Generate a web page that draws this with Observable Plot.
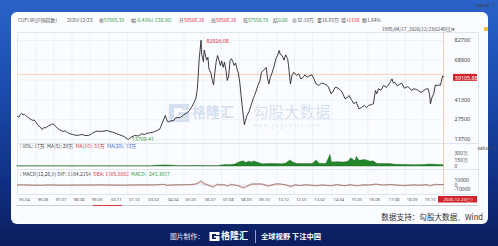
<!DOCTYPE html>
<html><head><meta charset="utf-8">
<script src="https://cdn.jsdelivr.net/npm/d3@7"></script>
<script src="https://cdn.jsdelivr.net/npm/@observablehq/plot@0.6"></script>
<style>
html,body{margin:0;padding:0;}
body{width:498px;height:246px;overflow:hidden;position:relative;
 background:linear-gradient(180deg,#2b63c8 0%,#1c4cb0 35%,#102f82 75%,#0b1d5c 100%);
 font-family:"Noto Sans CJK SC","Noto Sans",sans-serif;}
#card{position:absolute;left:11px;top:12px;width:477px;height:212px;background:#fbfcff;border-radius:6px;}
.abs{position:absolute;white-space:nowrap;line-height:1;}
.hd{font-size:4.9px;color:#555;top:17.8px;}
.g{color:#2e9a3e}.r{color:#e0303a}.b{color:#3b5fd6}
.ln{position:absolute;background:#dfe5ee;}
.panel{position:absolute;left:0;}
#wm{color:rgba(110,150,205,0.28);}
</style></head>
<body>
<div id="card"></div>
<!-- header -->
<div class="abs hd" style="left:18px">CUFI.W(沪铜指数)</div>
<div class="abs hd" style="left:67px">2020/12/23</div>
<div class="abs hd" style="left:99px">收<span class="g">57665.39</span></div>
<div class="abs hd" style="left:131px">幅<span class="g">-0.41%(-238.90)</span></div>
<div class="abs hd" style="left:179px">开<span class="r">58506.16</span></div>
<div class="abs hd" style="left:211px">高<span class="r">58506.16</span></div>
<div class="abs hd" style="left:243px">低<span class="g">57558.78</span></div>
<div class="abs hd" style="left:273px">结<span class="g">0.00</span></div>
<div class="abs hd" style="left:292px">仓32.19万</div>
<div class="abs hd" style="left:317px">量16.65万</div>
<div class="abs hd" style="left:341px">增<span class="r">+1198</span></div>
<div class="abs hd" style="left:362px">额1.64%</div>
<div class="abs" style="left:382px;top:26.8px;font-size:4.7px;color:#444;text-decoration:underline;">1995/04/17_2020/12/23(6240日)▾</div>
<div class="abs" style="left:484px;top:27px;width:3.5px;height:3.5px;background:#f2c230;"></div>

<!-- frame lines -->
<div class="ln" style="left:17px;top:32px;width:461px;height:0.7px;"></div>
<div class="ln" style="left:17px;top:143px;width:461px;height:0.7px;"></div>
<div class="ln" style="left:17px;top:169px;width:461px;height:0.7px;"></div>
<div class="ln" style="left:17px;top:194px;width:461px;height:0.7px;"></div>
<div class="ln" style="left:17px;top:32px;width:0.7px;height:162px;"></div>
<div class="ln" style="left:478px;top:32px;width:0.7px;height:162px;"></div>
<div class="ln" style="left:443px;top:32px;width:0.8px;height:162px;background:#f1cfae;"></div>
<!-- scroll bar -->
<div class="ln" style="left:17px;top:205px;width:461px;height:0.8px;background:#c8ccd4;"></div>
<div class="ln" style="left:93px;top:205px;width:29px;height:1.2px;background:#d83a3a;"></div>

<!-- watermark -->
<div id="wm">
 <svg class="abs" style="left:168px;top:103px" width="22" height="20" viewBox="0 0 22 20">
  <path d="M1 1 H21 V7 H14 V5 H6 V15 H14 V12 H10 V9 H21 V19 H1 Z" fill="rgba(110,150,205,0.28)"/>
 </svg>
 <div class="abs" style="left:192px;top:104px;font-size:14px;font-weight:700;">格隆汇</div>
 <div class="abs" style="left:253px;top:103.5px;font-size:15.5px;">勾股大数据</div>
 <div class="abs" style="left:253px;top:122px;font-size:5px;letter-spacing:1.35px;">www.gugudata.com</div>
</div>

<!-- sub headers -->
<div class="abs" style="left:20px;top:143.3px;font-size:5px;color:#444">⁝ VOL: 17万&nbsp; MA(5): 29万&nbsp; <span class="r">MA(10): 31万</span>&nbsp; <span class="b">MA(20): 33万</span></div>
<div class="abs" style="left:20px;top:171px;font-size:5px;color:#444">⁝ MACD(12,26,9) DIF: 1184.2154&nbsp; <span class="r">DEA: 1305.8882</span>&nbsp; <span class="g">MACD: -243.3057</span></div>

<div id="pA" class="panel" style="top:0"></div>
<div id="pB" class="panel" style="top:143px"></div>
<div id="pC" class="panel" style="top:169px"></div>
<div id="pD" class="panel" style="top:194px"></div>

<div class="abs" style="right:15px;top:213px;font-size:7.6px;color:#333;">数据支持：勾股大数据、Wind</div>

<!-- footer -->
<div class="abs" style="left:170px;top:232.5px;font-size:6.8px;color:#e8eeff;">图片制作：</div>
<svg class="abs" style="left:209px;top:231px" width="11" height="11" viewBox="0 0 22 20">
 <path d="M1 1 H21 V7 H14 V5 H6 V15 H14 V12 H10 V9 H21 V19 H1 Z" fill="#ffffff"/>
</svg>
<div class="abs" style="left:221px;top:231px;font-size:9px;font-weight:700;color:#fff;">格隆汇</div>
<div class="abs" style="left:255px;top:230px;width:0.8px;height:13px;background:#8fa3d8;"></div>
<div class="abs" style="left:261px;top:232.5px;font-size:7.3px;font-weight:700;color:#fff;">全球视野 下注中国</div>

<script>
// ---------- data ----------
const priceDates = ["1995-04-17","1995-05-15","1995-06-15","1995-07-15","1995-08-15","1995-09-15","1995-10-15","1995-11-15","1995-12-15",
"1996-01-15","1996-02-15","1996-03-15","1996-04-15","1996-05-15","1996-06-15","1996-07-15","1996-08-15","1996-09-15","1996-10-15","1996-11-15","1996-12-15",
"1997-01-15","1997-03-01","1997-05-01","1997-06-15","1997-08-01","1997-09-15","1997-11-01",
"1998-01-15","1998-03-01","1998-04-15","1998-06-15","1998-08-15","1998-11-15",
"1999-01-15","1999-03-15","1999-05-15","1999-08-01","1999-10-01","1999-12-01",
"2000-02-01","2000-04-15","2000-06-15","2000-09-15","2000-11-15",
"2001-01-15","2001-04-15","2001-06-15","2001-09-15","2001-12-20",
"2002-03-01","2002-05-15","2002-08-01","2002-10-15","2002-12-15",
"2003-02-01","2003-04-15","2003-07-01","2003-09-15","2003-11-15",
"2004-01-01","2004-02-15","2004-03-15","2004-04-15","2004-05-15","2004-07-01","2004-09-15","2004-11-01",
"2005-02-15","2005-04-15","2005-07-01","2005-09-01","2005-10-15","2005-12-01",
"2006-01-15","2006-02-15","2006-03-01","2006-04-01","2006-05-12","2006-05-25","2006-06-10","2006-07-01","2006-07-20","2006-08-10","2006-09-10","2006-10-10","2006-11-01","2006-12-15",
"2007-01-15","2007-02-10","2007-03-10","2007-04-10","2007-05-10","2007-06-10","2007-07-10","2007-08-10","2007-09-10","2007-10-10","2007-11-10","2007-12-10",
"2008-01-10","2008-02-10","2008-03-10","2008-04-10","2008-05-10","2008-06-10","2008-07-10","2008-08-10","2008-09-10","2008-10-10","2008-11-01","2008-12-20",
"2009-01-15","2009-02-15","2009-04-01","2009-05-15","2009-07-01","2009-08-01","2009-09-01","2009-10-15","2009-12-01",
"2010-01-01","2010-02-15","2010-04-15","2010-05-15","2010-06-15","2010-07-15","2010-08-15","2010-10-01","2010-11-15","2010-12-20",
"2011-01-25","2011-02-20","2011-04-01","2011-05-15","2011-06-15","2011-08-01","2011-08-20","2011-10-01","2011-11-01","2011-12-15",
"2012-02-15","2012-04-01","2012-05-15","2012-07-01","2012-08-15","2012-10-01","2012-11-15",
"2013-01-15","2013-03-01","2013-04-15","2013-06-15","2013-08-15","2013-10-15","2013-12-15",
"2014-01-15","2014-03-15","2014-05-01","2014-06-15","2014-08-15","2014-10-15","2014-12-01",
"2015-01-15","2015-03-01","2015-04-15","2015-06-01","2015-08-01","2015-09-15","2015-11-15",
"2016-01-15","2016-03-15","2016-05-01","2016-06-15","2016-08-15","2016-10-01","2016-11-15","2016-12-15",
"2017-01-20","2017-03-15","2017-05-15","2017-07-15","2017-09-15","2017-10-15","2017-11-15","2017-12-15",
"2018-01-15","2018-03-15","2018-04-15","2018-06-15","2018-08-15","2018-10-15","2018-11-15",
"2019-01-15","2019-03-15","2019-05-15","2019-06-15","2019-08-15","2019-10-15","2019-12-15",
"2020-01-20","2020-02-20","2020-03-10","2020-04-15","2020-05-20","2020-06-28","2020-08-01","2020-09-10","2020-10-15","2020-11-01","2020-12-05","2020-12-23"];
const priceValues = [29800,29240,31000,32030,30800,31200,30420,29500,29000,
28120,27600,27000,27400,26250,24800,23450,22900,21500,20670,22000,21800,
22270,23200,24150,24600,22800,21570,20500,
19270,19800,18600,17670,17200,16480,
16900,17180,16500,16480,17600,18780,
19600,19270,19500,19970,19200,
18780,17670,16900,15790,13709,
15500,16480,16200,17670,17200,
18000,18370,18900,19970,21000,
24640,28000,30420,27500,25750,26600,26940,28800,
29240,30600,32290,34000,36210,39000,
42070,48000,53640,69950,82926,73000,71060,68000,76000,73430,69000,71000,62980,60000,
55000,51820,60000,68000,72240,69000,65280,68500,64000,67570,62000,54820,
58000,68760,70000,68000,65280,67000,62980,60000,53640,44000,37400,24000,
27000,30420,33000,37400,42000,44380,47000,51340,55000,
60600,61790,64000,56000,52510,57000,59490,64090,69950,72000,
75730,73000,72240,69000,72720,70000,65280,52510,58000,60600,
58300,59500,55990,56800,58780,57120,58000,
58780,56000,52510,51340,53000,52510,51500,
50150,45550,47500,50150,49500,47850,45500,
42070,43000,44380,41500,38580,40000,35090,
36000,37400,36000,37400,38000,38580,47850,45500,
49030,48000,51340,50000,52510,54000,55990,53000,
53640,51000,51820,53000,49450,50500,50150,
48000,49030,48500,47850,46500,47850,49030,
49000,45000,38580,43180,45500,51820,51000,51820,51500,53640,58000,57665];

const tagValue = [59105.88];
const peakPoint = [{date:"2006-05-12", value:82926.08, label:"82926.08"}];
const lowPoint = [{date:"2001-12-20", value:13709.41, label:"13709.41"}];
const yTicks = [13700, 27500, 41300, 55100, 68900, 82700];
const yLabelTicks = [13700, 27500, 41300, 68900, 82700];

const volDates = ["1995-04-17","2003-06-01","2003-09-01","2004-03-01","2004-09-01","2005-02-01","2006-04-01","2007-05-01","2007-11-01","2008-02-01","2008-06-01","2008-09-01","2008-12-01","2009-02-01","2009-04-01","2009-06-01","2009-08-01","2009-10-01","2010-01-01","2010-03-01","2010-07-01","2010-11-01","2011-04-01","2011-07-01","2011-10-01","2011-12-01","2012-03-01","2012-08-01","2013-02-01","2013-05-01","2013-07-01","2013-12-01","2014-03-01","2014-04-01","2014-08-01","2015-01-01","2015-04-01","2015-06-01","2015-09-01","2015-10-01","2015-12-01","2016-04-01","2016-08-01","2016-10-01","2017-01-01","2017-06-01","2017-10-01","2018-02-01","2018-09-01","2019-04-01","2019-11-01","2020-03-01","2020-07-01","2020-12-23"];
const volValues = [3,3,20,25,20,8,10,8,35,30,45,90,120,80,110,95,115,90,60,50,60,55,50,70,140,90,60,55,60,140,65,55,265,90,100,90,110,190,120,220,130,150,110,120,60,55,55,40,35,30,35,45,40,30];
const volTicks = [0,150,300];

const macdDates = ["1995-04-17","1995-09-01","1996-03-01","1996-09-01","1997-03-01","1997-09-01","1998-03-01","1998-09-01","1999-03-01","1999-09-01","2000-03-01","2000-09-01","2001-03-01","2001-09-01","2002-03-01","2002-09-01","2003-03-01","2003-09-01","2004-02-01","2004-05-01","2004-09-01","2005-03-01","2005-09-01","2006-01-15","2006-04-01","2006-05-15","2006-06-15","2006-08-01","2006-10-15","2006-12-01","2007-02-10","2007-05-01","2007-07-15","2007-10-01","2007-12-15","2008-02-15","2008-05-15","2008-08-01","2008-10-15","2008-12-20","2009-02-15","2009-06-01","2009-10-15","2010-01-15","2010-05-15","2010-07-15","2010-11-15","2011-02-15","2011-06-15","2011-10-15","2012-01-15","2012-05-15","2012-09-15","2013-04-15","2013-09-01","2014-03-15","2014-07-15","2015-01-15","2015-05-01","2015-08-15","2015-11-15","2016-02-15","2016-06-15","2016-11-15","2017-01-15","2017-05-15","2017-09-15","2018-01-15","2018-07-15","2019-03-15","2019-06-15","2020-01-15","2020-02-25","2020-06-15","2020-09-15","2020-12-23"];
const difValues = [0,300,-400,-700,300,-400,-300,-200,100,0,300,100,-300,-400,200,100,200,300,1800,-1200,300,500,900,2500,7000,10500,4000,1500,-800,-3000,-4500,2500,-300,800,-3000,2000,-600,-1800,-5500,-6500,-1500,2500,2500,2000,-3000,-500,3000,2000,0,-4500,800,-1500,800,-2000,300,-2000,1000,-2000,1000,-1500,-1500,500,-300,2500,1200,-500,1300,0,-1500,400,-700,800,-2500,2000,600,1184];
const deaValues = [0,150,-200,-500,0,-200,-300,-250,0,0,200,150,-200,-350,0,100,150,200,1000,-200,0,400,700,1800,4500,7500,6000,3000,500,-1500,-3500,0,800,300,-1500,0,200,-1000,-3500,-5500,-3500,1500,2000,2200,-1000,-1500,1500,2500,500,-2500,-500,-600,200,-1000,-200,-1200,400,-1200,200,-900,-1300,0,0,1200,1500,0,800,300,-800,0,-300,300,-1200,800,900,1306];
const macdTicks = [-10000,0,10000];

const tickDates = ["1995-04-17","1996-06-01","1997-07-01","1998-08-01","1999-09-01","2000-11-01","2001-12-01","2003-02-01","2004-04-01","2005-05-01","2006-07-01","2007-08-01","2008-09-01","2009-10-01","2010-12-01","2012-01-01","2013-02-01","2014-04-01","2015-05-01","2016-06-01","2017-08-01","2018-09-01","2019-10-01"];
const tickLabels = ["95.04","96.06","97.07","98.08","99.09","00.11","01.12","03.02","04.04","05.05","06.07","07.08","08.09","09.10","10.12","12.01","13.02","14.04","15.05","16.06","17.08","18.09","19.10"];
const endDate = ["2020-12-23"];
const endLabel = "2020-12-23(三)";
const startDate = "1995-04-17";

// ---------- build ----------
const P = d => new Date(d + "T00:00:00Z");
const price = priceDates.map((d,i)=>({date:P(d), value:priceValues[i]}));
const vol = volDates.map((d,i)=>({date:P(d), value:volValues[i]}));
const macd = macdDates.map((d,i)=>({date:P(d), dif:difValues[i], dea:deaValues[i]}));
const ticks = tickDates.map(P);
const xDomain = [P(startDate), P(endDate[0])];
const common = {width:498, marginLeft:17, marginRight:55,
  x:{type:"utc", domain:xDomain, axis:null},
  style:{background:"transparent", fontFamily:"'Noto Sans','DejaVu Sans',sans-serif", overflow:"visible"}};
const gridCol = "#e6ebf2";

const A = Plot.plot({...common, height:143, marginTop:40, marginBottom:4,
  y:{domain:[13700,82700], axis:null},
  marks:[
    Plot.ruleX(ticks, {stroke:gridCol, strokeWidth:0.6, insetTop:-8, insetBottom:-4}),
    Plot.ruleY(yTicks, {stroke:gridCol, strokeWidth:0.6}),
    Plot.ruleY(tagValue, {stroke:"#f1c9a2", strokeWidth:0.8}),
    Plot.lineY(price, {x:"date", y:"value", stroke:"#1b1b1b", strokeWidth:0.85}),
    Plot.axisY(yLabelTicks, {anchor:"right", tickSize:0, tickPadding:11, fontSize:5.5, fill:"#444", tickFormat:d=>String(d)}),
    Plot.rect(tagValue, {x1:()=>P(endDate[0]), x2:()=>P(endDate[0]), y1:d=>d, y2:d=>d, insetLeft:10, insetRight:-34, insetTop:0, insetBottom:-7, fill:"#d2232a"}),
    Plot.text(tagValue, {x:()=>P(endDate[0]), y:d=>d, text:d=>d.toFixed(2), dx:11.5, dy:3.6, textAnchor:"start", fill:"#fff", fontSize:5.3}),
    Plot.text(peakPoint, {x:d=>P(d.date), y:"value", text:"label", dx:5.5, dy:1, textAnchor:"start", fill:"#e0303a", fontSize:5.2}),
    Plot.text(lowPoint, {x:d=>P(d.date), y:"value", text:"label", dx:3.5, dy:-0.5, textAnchor:"start", fill:"#3a9a3a", fontSize:5.2})
  ]});
document.getElementById("pA").append(A);

const B = Plot.plot({...common, height:26, marginTop:10, marginBottom:3,
  y:{domain:[0,300], axis:null},
  marks:[
    Plot.ruleX(ticks, {stroke:gridCol, strokeWidth:0.6, insetTop:-10, insetBottom:-3}),
    Plot.areaY(vol, {x:"date", y:"value", curve:"linear", fill:"#23862b", stroke:"#145a18", strokeWidth:0.4}),
    Plot.axisY(volTicks, {anchor:"right", tickSize:0, tickPadding:11, fontSize:5, fill:"#444", tickFormat:d=>d===0?"0":d+"万"})
  ]});
document.getElementById("pB").append(B);

const C = Plot.plot({...common, height:25, marginTop:11, marginBottom:5,
  y:{domain:[-10000,10000], axis:null},
  marks:[
    Plot.ruleX(ticks, {stroke:gridCol, strokeWidth:0.6, insetTop:-11, insetBottom:-5}),
    Plot.ruleY([0], {stroke:"#cfd5de", strokeWidth:0.5}),
    Plot.lineY(macd, {x:"date", y:"dea", stroke:"#d9534f", strokeWidth:0.6}),
    Plot.lineY(macd, {x:"date", y:"dif", stroke:"#7d726c", strokeWidth:0.6}),
    Plot.axisY(macdTicks, {anchor:"right", tickSize:0, tickPadding:11, fontSize:5, fill:"#444", tickFormat:d=>String(d)})
  ]});
document.getElementById("pC").append(C);

const D = Plot.plot({...common, height:11, marginTop:2, marginBottom:2.5,
  y:{axis:null},
  marks:[
    Plot.text(ticks, {x:d=>d, text:(d,i)=>tickLabels[i], frameAnchor:"middle", textAnchor:"start", dx:1.6, fontSize:4.2, fill:"#555"}),
    Plot.rect(endDate, {x1:d=>P(d), x2:d=>P(d), insetLeft:-5, insetRight:-34, fill:"#d2232a"}),
    Plot.text(endDate, {x:d=>P(d), text:()=>endLabel, frameAnchor:"middle", textAnchor:"middle", dx:14.5, fontSize:4.3, fill:"#fff"})
  ]});
document.getElementById("pD").append(D);
</script>
</body></html>
